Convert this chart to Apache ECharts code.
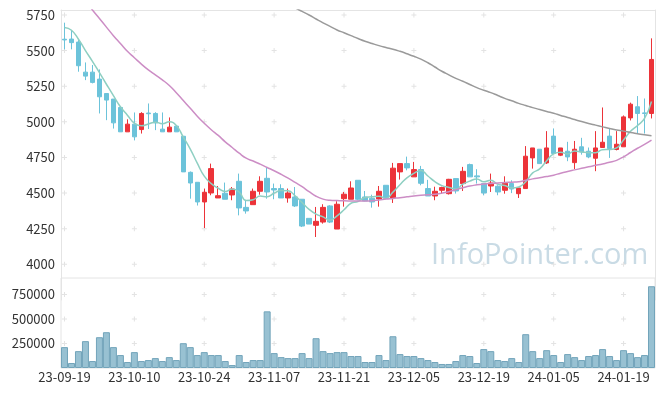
<!DOCTYPE html>
<html>
<head>
<meta charset="utf-8">
<script src="https://cdn.jsdelivr.net/npm/echarts@6/dist/echarts.min.js"></script>
<style>html,body{margin:0;padding:0;background:#fff;}#c{width:665px;height:396px;}</style>
</head>
<body>
<div id="c"></div>
<script>
const dates = ['23-09-19','23-09-20','23-09-21','23-09-22','23-09-25','23-09-26','23-09-27',
'23-10-04','23-10-05','23-10-06','23-10-10','23-10-11','23-10-12','23-10-13',
'23-10-16','23-10-17','23-10-18','23-10-19','23-10-20','23-10-23','23-10-24','23-10-25','23-10-26','23-10-27',
'23-10-30','23-10-31','23-11-01','23-11-02','23-11-03','23-11-06','23-11-07','23-11-08','23-11-09','23-11-10',
'23-11-13','23-11-14','23-11-15','23-11-16','23-11-17','23-11-20','23-11-21','23-11-22','23-11-23','23-11-24',
'23-11-27','23-11-28','23-11-29','23-11-30','23-12-01','23-12-04','23-12-05','23-12-06','23-12-07','23-12-08',
'23-12-11','23-12-12','23-12-13','23-12-14','23-12-15','23-12-18','23-12-19','23-12-20','23-12-21','23-12-22',
'23-12-26','23-12-27','23-12-28','24-01-02','24-01-03','24-01-04','24-01-05',
'24-01-08','24-01-09','24-01-10','24-01-11','24-01-12','24-01-15','24-01-16','24-01-17','24-01-18','24-01-19',
'24-01-22','24-01-23','24-01-24','24-01-25'];

const opens = [5580,5581,5560,5349,5349,5300,5199,5160,5101,4930,
4984,4946,5062,5059,4949,4930,4970,4899,4646,4576,
4438,4501,4466,4499,4487,4583,4400,4419,4513,4604,
4532,4532,4466,4473,4457,4323,4274,4297,4410,4248,
4461,4457,4590,4473,4464,4459,4555,4466,4649,4707,
4614,4665,4532,4480,4520,4496,4602,4567,4700,4621,
4567,4550,4548,4520,4567,4496,4532,4747,4808,4712,
4900,4766,4794,4714,4825,4794,4745,4820,4900,4806,
4825,5028,5106,5063,5059];

const closes = [5575,5556,5394,5321,5277,5176,5153,4993,4930,4984,
4895,5059,5057,4993,4930,4963,4930,4649,4571,4438,
4506,4672,4482,4457,4529,4396,4375,4513,4583,4508,
4522,4466,4501,4410,4269,4283,4302,4400,4297,4422,
4492,4536,4457,4445,4438,4513,4464,4675,4707,4677,
4665,4569,4480,4513,4539,4597,4515,4653,4614,4614,
4501,4571,4508,4569,4529,4536,4759,4817,4707,4817,
4778,4817,4754,4808,4789,4754,4817,4857,4813,4843,
5035,5124,5059,5059,5438];

const lows = [5509,5509,5352,5293,5270,5059,5012,4953,4930,4930,
4870,4918,4950,4942,4930,4930,4930,4649,4461,4413,
4255,4485,4466,4457,4450,4344,4356,4419,4489,4461,
4457,4466,4433,4403,4262,4283,4192,4286,4290,4248,
4405,4457,4450,4443,4398,4405,4457,4431,4595,4660,
4614,4555,4480,4450,4496,4490,4497,4515,4614,4567,
4485,4508,4485,4496,4500,4466,4532,4672,4705,4705,
4778,4760,4724,4669,4770,4745,4654,4817,4747,4800,
4825,5010,4920,4918,5024];

const highs = [5696,5645,5575,5417,5399,5368,5200,5160,5101,5018,
5066,5068,5129,5068,5066,5031,4975,4900,4652,4576,
4532,4707,4550,4574,4543,4637,4450,4532,4618,4677,
4567,4562,4532,4543,4457,4323,4403,4422,4415,4443,
4508,4583,4590,4515,4489,4550,4555,4712,4708,4756,
4719,4691,4593,4545,4545,4600,4602,4684,4707,4668,
4570,4637,4555,4618,4590,4536,4830,4817,4808,4935,
4954,4817,4860,4866,4888,4820,4935,5101,4953,4935,
5045,5135,5181,5164,5586];

const volumes = [213000,51000,172000,274000,71000,314000,365000,213000,132000,61000,
162000,71000,81000,101000,71000,111000,81000,253000,213000,132000,
162000,132000,132000,71000,30000,132000,61000,81000,81000,578000,
152000,111000,101000,101000,152000,101000,304000,172000,152000,162000,
162000,122000,122000,61000,61000,132000,81000,324000,142000,122000,
122000,101000,81000,61000,41000,41000,71000,132000,122000,51000,
193000,172000,81000,71000,101000,61000,345000,172000,101000,182000,
132000,61000,142000,111000,81000,122000,132000,193000,122000,81000,
182000,152000,111000,132000,834000];

const ma5 = [5662,5643,5580,5500,5425,5345,5264,5184,5106,5047,
4991,4972,4985,4998,4987,5000,4975,4893,4809,4710,
4619,4567,4534,4511,4529,4507,4448,4454,4479,4475,
4500,4518,4516,4481,4434,4386,4353,4333,4310,4341,
4383,4429,4441,4470,4474,4478,4463,4507,4559,4607,
4638,4659,4620,4581,4553,4540,4529,4563,4584,4599,
4579,4591,4562,4553,4536,4543,4580,4642,4670,4727,
4776,4787,4775,4795,4789,4784,4784,4805,4806,4817,
4873,4934,4975,5024,5143];

const ma20 = [6030,5970,5910,5850,5785,5725,5665,5605,5550,5495,
5450,5405,5365,5330,5295,5255,5205,5150,5095,5040,
4990,4945,4905,4860,4820,4780,4745,4725,4703,4680,
4657,4632,4605,4575,4545,4510,4478,4458,4450,4448,
4446,4445,4444,4445,4447,4452,4458,4463,4468,4474,
4480,4485,4488,4492,4500,4510,4524,4538,4550,4558,
4564,4568,4571,4574,4577,4580,4590,4600,4608,4616,
4626,4640,4652,4663,4674,4685,4695,4705,4716,4730,
4755,4785,4815,4842,4872];

const ma60 = [null,null,null,null,null,null,null,null,null,null,
null,null,null,null,null,null,null,null,null,null,
null,null,null,null,null,null,null,null,null,null,
5880,5855,5830,5800,5775,5750,5722,5695,5670,5645,
5625,5605,5585,5566,5550,5535,5522,5510,5495,5478,
5460,5440,5415,5385,5355,5330,5305,5285,5262,5240,
5222,5205,5185,5165,5148,5130,5115,5100,5087,5073,
5060,5045,5030,5016,5002,4989,4977,4965,4953,4943,
4935,4925,4917,4909,4902];

const priceTicks = [4000,4250,4500,4750,5000,5250,5500,5750];
const volTicks = [250000,500000,750000];

const labelFont = 'Noto Sans CJK KR';
const lineCol = '#e4e4e4';
const crossSym = 'path://M2,0H3V2H5V3H3V5H2V3H0V2H2Z';
const plain = v => String(v);

const labelDates = dates.filter((d, i) => i % 10 === 0);
const priceCross = [];
labelDates.forEach(d => priceTicks.forEach(t => priceCross.push([d, t])));
const volCross = [];
labelDates.forEach(d => volTicks.forEach(t => volCross.push([d, t])));

const candleData = dates.map((d, i) => [opens[i], closes[i], lows[i], highs[i]]);

const chart = echarts.init(document.getElementById('c'), null, {renderer: 'canvas'});
chart.setOption({
  animation: false,
  backgroundColor: '#fff',
  grid: [
    {left: 61, width: 594, top: 10, height: 290, show: false},
    {left: 61, width: 594, top: 278, height: 90, show: true, borderColor: lineCol, borderWidth: 1, backgroundColor: 'transparent'}
  ],
  xAxis: [
    {type: 'category', gridIndex: 0, data: dates, boundaryGap: true, position: 'top',
     axisLine: {show: true, lineStyle: {color: lineCol}}, axisTick: {show: false}, axisLabel: {show: false}, splitLine: {show: false}},
    {type: 'category', gridIndex: 1, data: dates, boundaryGap: true,
     axisLine: {show: false}, axisTick: {show: false}, splitLine: {show: false},
     axisLabel: {interval: 9, color: '#333', fontSize: 13, fontFamily: labelFont, margin: 3}}
  ],
  yAxis: [
    {type: 'value', gridIndex: 0, min: 3750, max: 5785, interval: 250, scale: true,
     axisLine: {show: true, lineStyle: {color: lineCol}}, axisTick: {show: false}, splitLine: {show: false},
     axisLabel: {color: '#333', fontSize: 13, fontFamily: labelFont, margin: 6, showMinLabel: false, showMaxLabel: false, formatter: plain}},
    {type: 'value', gridIndex: 1, min: 0, max: 918000, interval: 250000,
     axisLine: {show: false}, axisTick: {show: false}, splitLine: {show: false},
     axisLabel: {color: '#333', fontSize: 13, fontFamily: labelFont, margin: 6, showMinLabel: false, showMaxLabel: false, formatter: plain}},
    {type: 'value', gridIndex: 0, position: 'right', min: 3750, max: 5785,
     axisLine: {show: true, lineStyle: {color: lineCol}}, axisTick: {show: false}, splitLine: {show: false}, axisLabel: {show: false}}
  ],
  graphic: [{
    type: 'text', left: 431, top: 241, z: 0, silent: true,
    style: {text: 'InfoPointer.com', font: '29px "Open Sans"', fill: '#c9dbe5'}
  }],
  series: [
    {type: 'scatter', xAxisIndex: 0, yAxisIndex: 0, data: priceCross, symbol: crossSym, symbolSize: 5,
     itemStyle: {color: '#dcdcdc'}, silent: true, z: 1},
    {type: 'scatter', xAxisIndex: 1, yAxisIndex: 1, data: volCross, symbol: crossSym, symbolSize: 5,
     itemStyle: {color: '#dcdcdc'}, silent: true, z: 1},
    {type: 'candlestick', xAxisIndex: 0, yAxisIndex: 0, data: candleData, barWidth: 5, z: 3,
     itemStyle: {color: '#ec3339', color0: '#6cc3da', borderColor: '#ec3339', borderColor0: '#6cc3da', borderWidth: 1}},
    {type: 'line', xAxisIndex: 0, yAxisIndex: 0, data: ma5, smooth: true, showSymbol: false, z: 4,
     lineStyle: {color: '#8ecfc2', width: 1.5}},
    {type: 'line', xAxisIndex: 0, yAxisIndex: 0, data: ma20, smooth: true, showSymbol: false, z: 4,
     lineStyle: {color: '#cc8dc5', width: 1.5}},
    {type: 'line', xAxisIndex: 0, yAxisIndex: 0, data: ma60, smooth: true, showSymbol: false, z: 4,
     lineStyle: {color: '#9a9a9a', width: 1.5}},
    {type: 'bar', xAxisIndex: 1, yAxisIndex: 1, data: volumes, barCategoryGap: '0%', z: 3,
     itemStyle: {color: '#98c1d2', borderColor: '#72a4ba', borderWidth: 1}}
  ]
});
</script>
</body>
</html>
